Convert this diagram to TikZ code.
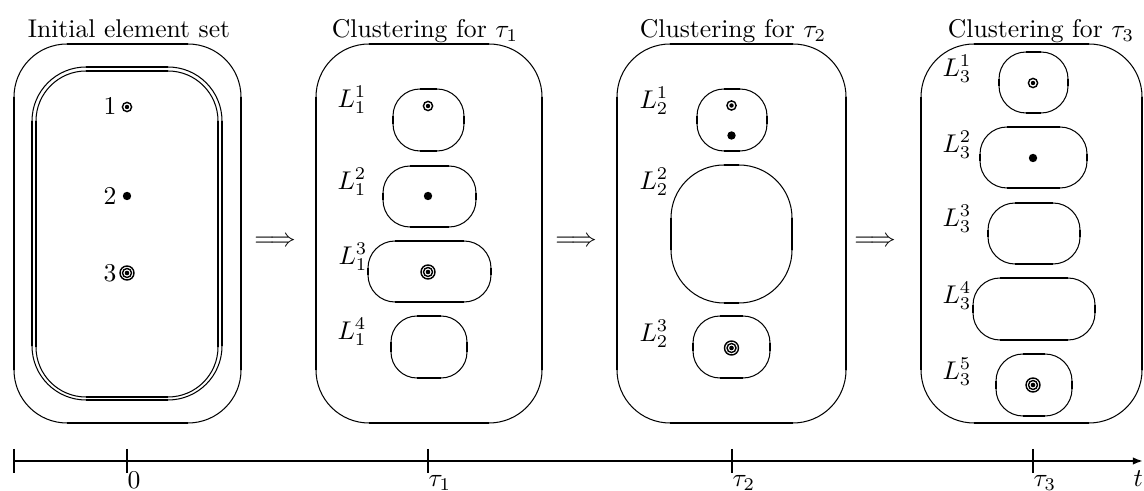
\documentclass[tikz,border=0pt]{standalone}
\usetikzlibrary{arrows.meta}
\tikzset{
  thinln/.style={line width=0.4pt},
  thickln/.style={line width=0.8pt},
  symln/.style={line width=0.55pt},
  lbl/.style={inner sep=0pt},
  axisln/.style={line width=0.8pt},
}
% cluster box: cx cy w h r  (pixel units)
\newcommand{\clus}[5]{%
  \pgfmathsetmacro\clxa{#1-#3/2}\pgfmathsetmacro\clxb{#1+#3/2}%
  \pgfmathsetmacro\clya{#2-#4/2}\pgfmathsetmacro\clyb{#2+#4/2}%
  \pgfmathsetmacro\clxc{\clxa+#5}\pgfmathsetmacro\clxd{\clxb-#5}%
  \pgfmathsetmacro\clyc{\clya+#5}\pgfmathsetmacro\clyd{\clyb-#5}%
  \draw[thinln, rounded corners=#5*0.39pt] (\clxa,\clya) rectangle (\clxb,\clyb);
  \draw[thickln] (\clxc,\clya) -- (\clxd,\clya) (\clxc,\clyb) -- (\clxd,\clyb)
                 (\clxa,\clyc) -- (\clxa,\clyd) (\clxb,\clyc) -- (\clxb,\clyd);
}
\newcommand{\symodot}[2]{%
  \draw[symln] (#1,#2) circle[radius=4.6];
  \fill (#1,#2) circle[radius=2.2];}
\newcommand{\symbull}[2]{%
  \fill (#1,#2) circle[radius=4.2];}
\newcommand{\symdodot}[2]{%
  \draw[symln] (#1,#2) circle[radius=7];
  \draw[symln] (#1,#2) circle[radius=4.5];
  \fill (#1,#2) circle[radius=2.3];}
\begin{document}
\begin{tikzpicture}[x=0.39pt,y=-0.39pt]
\useasboundingbox (0,0) rectangle (1144,491);

% titles
\node[lbl,anchor=base] (t0) at (129,38) {Initial element set};
\node[lbl,anchor=base] (t1) at (425,38) {Clustering for $\tau_1$};
\node[lbl,anchor=base] (t2) at (733,38) {Clustering for $\tau_2$};
\node[lbl,anchor=base] (t3) at (1041,38) {Clustering for $\tau_3$};

% panel 1
\clus{127.5}{233.5}{227}{379}{53}
\clus{127}{233.5}{190}{333}{54}
\clus{127}{234}{182}{326}{50}
\node[lbl] (e1) at (110,106) {1};
\node[lbl] (e2) at (110,196) {2};
\node[lbl] (e3) at (110,273) {3};
\symodot{127}{107}
\symbull{127}{196}
\symdodot{127}{273}

% panel 2
\clus{429}{233.5}{226}{379}{53}
\clus{428.5}{120}{71}{62}{27}
\clus{429.5}{196.5}{93}{61}{27}
\clus{429.5}{271.5}{123}{61}{27}
\clus{429}{347}{76}{62}{26}
\node[lbl] (l11) at (352,100) {$L_1^1$};
\node[lbl] (l12) at (352,182) {$L_1^2$};
\node[lbl] (l13) at (353,257) {$L_1^3$};
\node[lbl] (l14) at (352,332) {$L_1^4$};
\symodot{428}{106}
\symbull{428}{196}
\symdodot{428}{272}

% panel 3
\clus{731.5}{233.5}{229}{379}{53}
\clus{732}{120}{70}{62}{27}
\clus{731.5}{234}{121}{138}{53}
\clus{731.5}{347}{77}{62}{27}
\node[lbl] (l21) at (654,101) {$L_2^1$};
\node[lbl] (l22) at (654,182) {$L_2^2$};
\node[lbl] (l23) at (654,334) {$L_2^3$};
\symodot{731.5}{105.5}
\symbull{731.5}{135.5}
\symdodot{731.5}{348}

% panel 4
\clus{1031.5}{233.5}{221}{379}{53}
\clus{1033.5}{82.5}{69}{61}{27}
\clus{1033.5}{157.5}{107}{61}{27}
\clus{1034}{233.5}{92}{61}{27}
\clus{1034}{309}{122}{62}{27}
\clus{1034}{385}{76}{62}{27}
\node[lbl] (l31) at (957,69) {$L_3^1$};
\node[lbl] (l32) at (957,145) {$L_3^2$};
\node[lbl] (l33) at (957,219) {$L_3^3$};
\node[lbl] (l34) at (957,296) {$L_3^4$};
\node[lbl] (l35) at (957,372) {$L_3^5$};
\symodot{1033}{83}
\symbull{1033}{158}
\symdodot{1033}{385}

% arrows between panels
\node[lbl] (a1) at (275,242) {$\Longrightarrow$};
\node[lbl] (a2) at (576,242) {$\Longrightarrow$};
\node[lbl] (a3) at (875,242) {$\Longrightarrow$};

% time axis
\coordinate (ax0) at (14,461);
\coordinate (axe) at (1143,461);
\draw[axisln,-{Latex[length=4pt,width=3pt]}] (ax0) -- (axe);
\coordinate (k0a) at (14,449);   \coordinate (k0b) at (14,473);
\coordinate (k1a) at (127,449);  \coordinate (k1b) at (127,473);
\coordinate (k2a) at (428,449);  \coordinate (k2b) at (428,473);
\coordinate (k3a) at (732,449);  \coordinate (k3b) at (732,473);
\coordinate (k4a) at (1033,449); \coordinate (k4b) at (1033,473);
\draw[axisln] (k0a) -- (k0b) (k1a) -- (k1b) (k2a) -- (k2b) (k3a) -- (k3b) (k4a) -- (k4b);
\node[lbl,anchor=base west] (x0) at (127,489) {$0$};
\node[lbl,anchor=base west] (x1) at (428,487) {$\tau_1$};
\node[lbl,anchor=base west] (x2) at (732,487) {$\tau_2$};
\node[lbl,anchor=base west] (x3) at (1033,487) {$\tau_3$};
\node[lbl,anchor=base west] (xt) at (1133,487) {$t$};
\end{tikzpicture}
\end{document}
